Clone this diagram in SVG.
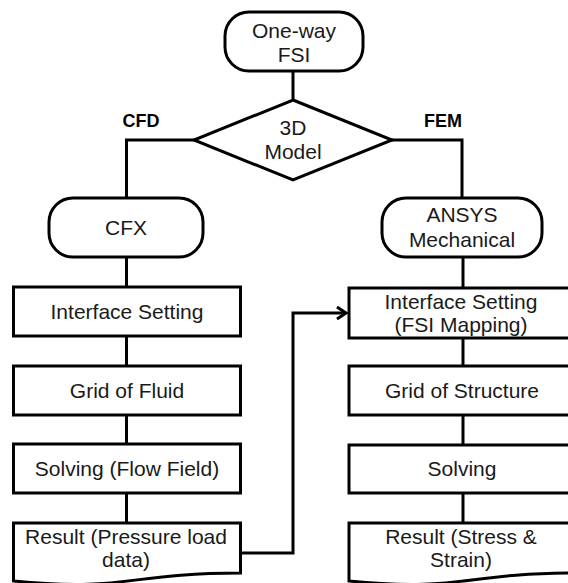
<svg xmlns="http://www.w3.org/2000/svg" width="568" height="583" viewBox="0 0 568 583">
<defs>
<style>
.shape{fill:#fff;stroke:#000;stroke-width:3}
.conn{fill:none;stroke:#000;stroke-width:3}
.t{font-family:"Liberation Sans",Arial,sans-serif;font-size:21px;fill:#1a1a1a;text-anchor:middle}
.lbl{font-family:"Liberation Sans",Arial,sans-serif;font-size:18px;font-weight:bold;fill:#000;text-anchor:middle}
</style>
<marker id="arr" markerWidth="12" markerHeight="14" refX="10" refY="7" orient="auto" markerUnits="userSpaceOnUse">
<path d="M1,1 L10,7 L1,13" fill="none" stroke="#000" stroke-width="3"/>
</marker>
</defs>
<rect width="568" height="583" fill="#fff"/>
<g id="connectors">
<line class="conn" x1="293" y1="71" x2="293" y2="100"/>
<polyline class="conn" points="195,140 126.5,140 126.5,198"/>
<polyline class="conn" points="391,140 462,140 462,198"/>
<line class="conn" x1="126.5" y1="257" x2="126.5" y2="287"/>
<line class="conn" x1="126.5" y1="336" x2="126.5" y2="366"/>
<line class="conn" x1="126.5" y1="415" x2="126.5" y2="444"/>
<line class="conn" x1="126.5" y1="493" x2="126.5" y2="523"/>
<line class="conn" x1="463" y1="257" x2="463" y2="288"/>
<line class="conn" x1="463" y1="338" x2="463" y2="366"/>
<line class="conn" x1="463" y1="415" x2="463" y2="445"/>
<line class="conn" x1="463" y1="493" x2="463" y2="523"/>
<polyline class="conn" points="240.5,553 293,553 293,313 346,313" marker-end="url(#arr)"/>
<text class="lbl" x="141" y="127">CFD</text>
<text class="lbl" x="443" y="127">FEM</text>
</g>
<g id="start">
<rect class="shape" x="225" y="12" width="138" height="59" rx="24" ry="24"/>
<text class="t" x="294" y="38">One-way</text>
<text class="t" x="294" y="62">FSI</text>
</g>
<g id="model3d">
<polygon class="shape" points="293,100 392,140 293,180 194,140"/>
<text class="t" x="293" y="135">3D</text>
<text class="t" x="293" y="159">Model</text>
</g>
<g id="cfx">
<rect class="shape" x="49" y="198" width="154" height="59" rx="24" ry="24"/>
<text class="t" x="126" y="235">CFX</text>
</g>
<g id="ansys">
<rect class="shape" x="382" y="198" width="160" height="59" rx="24" ry="24"/>
<text class="t" x="462" y="222">ANSYS</text>
<text class="t" x="462" y="247">Mechanical</text>
</g>
<g id="interface-left">
<rect class="shape" x="13.5" y="287" width="227" height="49"/>
<text class="t" x="127" y="319">Interface Setting</text>
</g>
<g id="grid-fluid">
<rect class="shape" x="13.5" y="366" width="227" height="49"/>
<text class="t" x="127" y="398">Grid of Fluid</text>
</g>
<g id="solving-flow">
<rect class="shape" x="13.5" y="444" width="227" height="49"/>
<text class="t" x="127" y="476">Solving (Flow Field)</text>
</g>
<g id="result-pressure">
<path class="shape" d="M13.5,523 H240.5 V573 C127,573 127,592 13.5,581 Z"/>
<text class="t" x="126" y="544">Result (Pressure load</text>
<text class="t" x="126" y="567">data)</text>
</g>
<g id="interface-right">
<rect class="shape" x="349" y="288" width="227" height="50"/>
<text class="t" x="461" y="309">Interface Setting</text>
<text class="t" x="461" y="332">(FSI Mapping)</text>
</g>
<g id="grid-structure">
<rect class="shape" x="349" y="366" width="227" height="49"/>
<text class="t" x="462" y="398">Grid of Structure</text>
</g>
<g id="solving-right">
<rect class="shape" x="349" y="445" width="227" height="48"/>
<text class="t" x="462" y="476">Solving</text>
</g>
<g id="result-stress">
<path class="shape" d="M349,523 H576 V573 C462,573 462,592 349,581 Z"/>
<text class="t" x="461" y="544">Result (Stress &amp;</text>
<text class="t" x="461" y="567">Strain)</text>
</g>
</svg>
